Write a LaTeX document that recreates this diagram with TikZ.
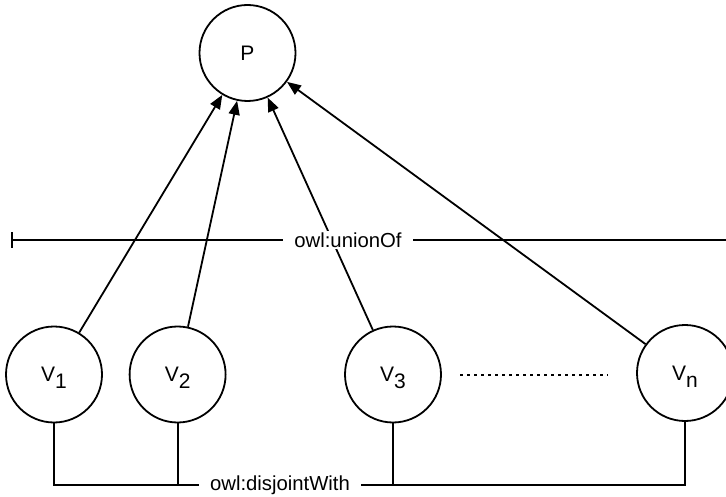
\documentclass[tikz,border=0pt]{standalone}
\usepackage{fontspec}
\setmainfont{Liberation Sans}
\usetikzlibrary{arrows.meta}
\begin{document}
\begin{tikzpicture}[x=1pt,y=-1pt,
  vnode/.style={circle,draw,line width=1.8pt,minimum size=96pt,inner sep=0pt,font=\fontsize{21}{25}\selectfont},
  arr/.style={line width=1.8pt,-{Triangle[length=14pt,width=11pt]}},
  ln/.style={line width=1.8pt},
  lbl/.style={fill=white,inner ysep=2pt,inner xsep=11pt,font=\fontsize{20.3}{24}\selectfont},
  dotline/.style={line width=1.4pt,dash pattern=on 2.5pt off 4.5pt}]
\useasboundingbox (0,0) rectangle (726,497);
\node[vnode] (P) at (247.5,53) {P};
\node[vnode] (V1) at (54,374.5) {V\raisebox{-7pt}[0pt][0pt]{1}};
\node[vnode] (V2) at (177.6,374.5) {V\raisebox{-7pt}[0pt][0pt]{2}};
\node[vnode] (V3) at (393,374.5) {V\raisebox{-7pt}[0pt][0pt]{3}};
\node[vnode] (Vn) at (685,373) {V\raisebox{-7pt}[0pt][0pt]{n}};
\draw[arr] (V1) -- (P);
\draw[arr] (V2) -- (P);
\draw[arr] (V3) -- (P);
\draw[arr] (Vn) -- (P);
% union line
\coordinate (uL) at (11,240);
\coordinate (uR) at (726,240);
\draw[ln,{Bar[width=16pt]}-] (uL) -- (uR);
\node[lbl] (u) at (348,240) {owl:unionOf};
% dotted
\coordinate (d1) at (460,375);
\coordinate (d2) at (608,375);
\draw[dotline] (d1) -- (d2);
% disjoint bracket
\coordinate (b) at (0,485);
\draw[ln] (V1.south) -- (V1.south |- b) -- (Vn.south |- b) -- (Vn.south);
\draw[ln] (V2.south) -- (V2.south |- b);
\draw[ln] (V3.south) -- (V3.south |- b);
\node[lbl] (d) at (280,485) {owl:disjointWith};
\end{tikzpicture}
\end{document}
